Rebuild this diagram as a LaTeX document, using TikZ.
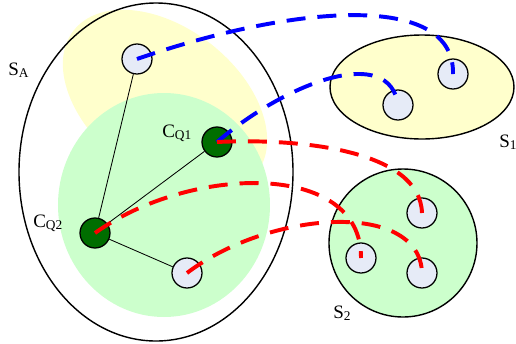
\documentclass[tikz,border=0pt]{standalone}
\usepackage{fontspec}
\setmainfont{Liberation Serif}
\usepackage{tikz}

\definecolor{nodefill}{RGB}{230,235,247}
\definecolor{coregreen}{RGB}{0,110,0}
\definecolor{softyellow}{RGB}{255,255,204}
\definecolor{softgreen}{RGB}{204,255,204}

\newcommand{\lowsub}[1]{\raisebox{-0.3ex}{\fontsize{9.5}{10}\selectfont #1}}

\begin{document}
\begin{tikzpicture}[x=0.025cm, y=-0.025cm,
    member/.style={circle, draw, line width=0.9pt, fill=nodefill, minimum size=0.75cm, inner sep=0pt},
    core/.style={member, fill=coregreen},
    link/.style={line width=0.6pt},
    query/.style={line width=2.8pt, dash pattern=on 13.5pt off 8.5pt},
    setlabel/.style={anchor=base west, inner sep=0pt, font=\fontsize{13.5}{16}\selectfont}]
    \useasboundingbox (0,0) rectangle (516,344);

    % Source set
    \fill[softyellow, rotate around={-38:(165,102)}] (165,102) ellipse [x radius=116, y radius=74];
    \fill[softgreen] (164,205) ellipse [x radius=106, y radius=112];
    \draw[line width=1pt] (156,172) ellipse [x radius=137, y radius=169];

    % Target sets
    \draw[line width=1pt, fill=softyellow] (422,87) ellipse [x radius=92, y radius=52];
    \draw[line width=1pt, fill=softgreen] (403,243) circle [radius=74];

    % Members
    \node[member] (n1) at (137,59) {};
    \node[core] (cq1) at (217,142) {};
    \node[core] (cq2) at (95,233) {};
    \node[member] (n4) at (187,273) {};
    \node[member] (a) at (453,74) {};
    \node[member] (b) at (398,105) {};
    \node[member] (c) at (422,213) {};
    \node[member] (d) at (361,258) {};
    \node[member] (e) at (422,273) {};

    \draw[link] (n1) -- (cq2);
    \draw[link] (cq1) -- (cq2);
    \draw[link] (cq2) -- (n4);

    % Labels
    \node[setlabel] (sa) at (8,75) {S\lowsub{A}};
    \node[setlabel] (s1) at (499,147) {S\lowsub{1}};
    \node[setlabel] (s2) at (333,318) {S\lowsub{2}};
    \node[setlabel] (lq1) at (162,137) {C\lowsub{Q1}};
    \node[setlabel] (lq2) at (33,227) {C\lowsub{Q2}};

    % Queries
    \draw[query, blue] (n1.center) .. controls (290,6) and (455,-10) .. (a.center);
    \draw[query, blue] (cq1.center) .. controls (290,80) and (390,45) .. (b.center);
    \draw[query, red] (cq1.center) .. controls (300,138) and (420,150) .. (c.center);
    \draw[query, red] (cq2.center) .. controls (190,165) and (362,160) .. (d.center);
    \draw[query, red] (n4.center) .. controls (270,210) and (420,200) .. (e.center);
\end{tikzpicture}
\end{document}
